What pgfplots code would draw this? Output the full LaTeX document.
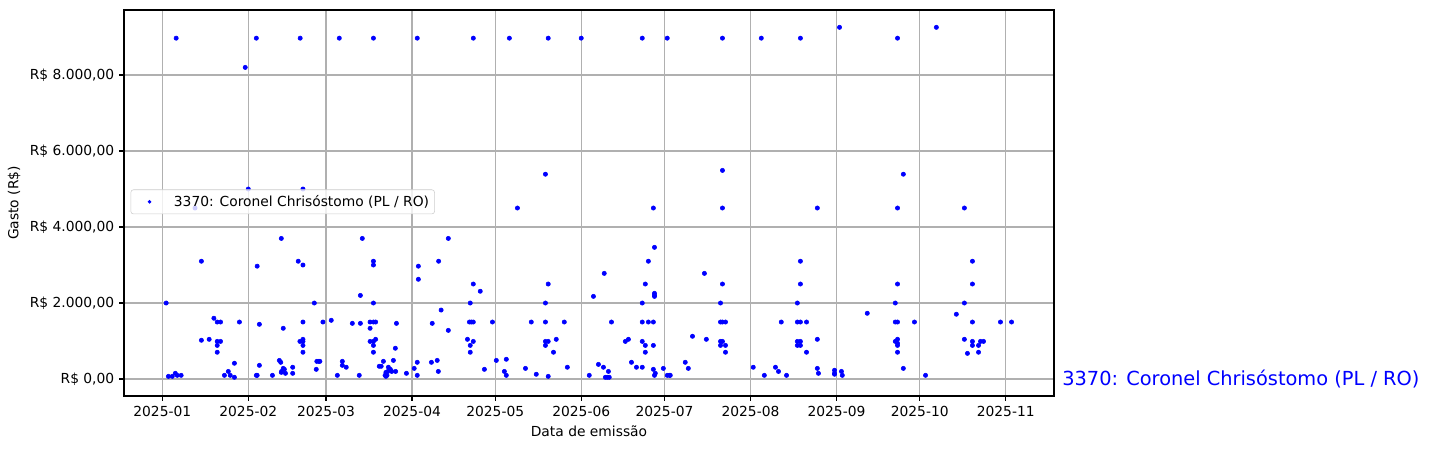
\documentclass[border=0pt]{standalone}
\usepackage{fontspec}
\setmainfont{DejaVu Sans}
\usepackage{pgfplots}
\usepackage{pgfplotstable}
\pgfplotsset{compat=1.18}
% x = days since 2025-01-01, y = value in R$
\pgfplotstableread{
x y
5.0 8970
29.9 8200
33.9 8970
49.7 8970
63.8 8970
76.1 8970
91.9 8970
112.1 8970
125.1 8970
139.1 8970
151.0 8970
173.0 8970
182.0 8970
201.9 8970
215.9 8970
230.0 8970
244.1 9255
265.0 8970
279.0 9255
31.0 5000
50.7 5000
11.8 4500
138.1 5390
128.0 4500
201.9 5490
177.0 4500
201.9 4500
236.1 4500
267.1 5390
265.0 4500
289.1 4500
42.9 3700
72.1 3700
103.1 3700
14.1 3100
34.2 2970
49.0 3100
50.7 3000
76.1 3100
76.1 3000
92.3 2970
92.3 2625
99.6 3100
177.4 3465
175.2 3100
230.0 3100
292.0 3100
71.4 2200
1.4 2000
54.8 2000
76.1 2000
112.1 2500
114.6 2310
139.1 2500
155.4 2175
111.0 2000
138.1 2000
159.3 2780
195.4 2780
174.1 2500
201.9 2500
177.4 2255
177.4 2205
177.4 2175
173.0 2000
201.2 2000
230.0 2500
265.0 2500
228.9 2000
264.2 2000
292.0 2500
289.1 2000
100.5 1815
18.6 1600
19.8 1500
21.0 1500
27.8 1500
35.0 1440
43.6 1335
14.1 1020
16.9 1045
19.8 990
21.0 990
50.7 1500
57.9 1500
60.9 1545
68.5 1465
71.4 1465
74.9 1500
76.1 1500
76.9 1500
74.9 1335
84.4 1465
97.3 1465
49.6 990
50.7 1045
50.7 990
103.1 1280
110.7 1500
111.4 1500
112.1 1500
119.0 1500
133.0 1500
138.1 1500
144.9 1500
110.0 1045
112.1 990
138.1 990
139.1 990
142.0 1045
161.9 1500
173.0 1500
175.2 1500
177.0 1500
201.2 1500
201.9 1500
203.0 1500
166.9 990
168.0 1045
173.0 990
191.1 1125
196.1 1045
201.2 990
201.9 990
254.1 1730
223.1 1500
228.9 1500
230.0 1500
232.2 1500
264.2 1500
265.0 1500
228.9 990
230.0 990
236.1 1045
264.2 990
265.0 1045
265.0 940
286.2 1705
271.1 1500
292.0 1500
302.1 1500
306.1 1500
289.1 1045
292.0 990
294.9 990
296.0 990
19.8 885
19.8 705
26.0 415
35.0 360
42.2 490
42.7 440
23.8 200
2.2 70
3.6 70
4.7 150
5.4 97
6.8 97
22.4 97
24.5 97
26.0 45
33.9 97
34.2 97
39.7 97
42.9 175
43.6 280
50.7 885
50.7 705
76.1 885
76.1 705
74.9 990
76.1 990
76.9 1045
84.0 810
55.7 465
56.4 465
56.8 465
55.5 255
47.0 310
47.0 150
44.0 255
44.4 150
43.0 200
64.9 465
64.9 360
66.3 310
63.1 97
71.0 97
79.7 465
83.3 490
78.2 335
78.9 335
81.5 310
82.2 255
80.6 175
81.3 200
82.7 200
84.1 200
80.3 97
81.0 97
80.6 70
88.0 150
90.8 280
91.9 440
91.9 97
97.0 440
99.1 490
99.5 200
111.0 885
111.0 705
138.1 885
141.0 705
116.1 255
120.4 490
124.0 520
123.3 200
124.0 97
130.9 280
134.8 125
139.1 70
146.0 310
153.9 97
174.1 885
174.1 705
177.0 885
201.2 885
203.0 885
203.0 705
157.2 385
159.0 310
160.8 200
159.7 45
160.4 45
161.1 45
169.1 440
170.9 310
173.0 310
177.0 255
177.4 97
177.7 150
180.6 280
182.0 97
182.8 97
183.1 97
188.5 440
189.6 280
228.9 885
230.0 885
232.2 705
265.0 885
265.0 705
213.0 310
217.0 97
221.0 310
222.1 200
225.0 97
236.1 280
236.5 150
242.3 230
242.3 150
242.3 125
244.8 200
245.1 97
267.1 280
292.0 885
294.2 885
290.2 675
294.2 705
275.1 97
}\datatable
\begin{document}
\begin{tikzpicture}
\begin{axis}[
  scale only axis, width=9.30in, height=3.86in,
  xmin=-13.8, xmax=321.4, ymin=-447, ymax=9711,
  xtick={0,31,59,90,120,151,181,212,243,273,304},
  xticklabels={2025-01,2025-02,2025-03,2025-04,2025-05,2025-06,2025-07,2025-08,2025-09,2025-10,2025-11},
  ytick={0,2000,4000,6000,8000},
  yticklabels={{R\$ 0,00},{R\$ 2.000,00},{R\$ 4.000,00},{R\$ 6.000,00},{R\$ 8.000,00}},
  xlabel={Data de emissão}, ylabel={Gasto (R\$)},
  grid=major, major grid style={color=black!31, line width=0.8pt},
  axis line style={line width=0.8pt},
  tick style={line width=0.8pt, color=black},
  tick align=outside, major tick length=3.5pt,
  xtick pos=left, ytick pos=left,
  axis on top, clip=false,
  font=\fontsize{10}{12}\selectfont,
  ticklabel style={font=\fontsize{10}{12}\selectfont},
  /pgf/number format/assume math mode=true,
  legend style={at={(0.007,0.503)}, anchor=west, draw=black!20, fill=white,
    fill opacity=0.8, text opacity=1, draw opacity=1, rounded corners=2pt,
    font=\fontsize{10}{12}\selectfont, inner xsep=2pt, inner ysep=2pt},
  legend image code/.code={%
    \path[draw=none, fill=none] (0,-2pt) rectangle (0.376in,2pt);
    \fill[blue, draw=none, fill opacity=1] (0.16in,0) circle (1.4pt);},
  legend cell align=left,
]
\addplot[only marks, mark=*, mark size=1.55pt, color=blue, mark options={draw=blue, fill=blue}] table[x=x, y=y] {\datatable};
\addlegendentry{3370: Coronel Chrisóstomo (PL / RO)}
\node[anchor=west, text=blue, font=\fontsize{14}{17}\selectfont, inner sep=0pt] at (axis cs:324.3,0) {3370: Coronel Chrisóstomo (PL / RO)};
\end{axis}
\pgfresetboundingbox
\path[use as bounding box] ([shift={(-1.24in,-0.52in)}]current axis.south west) rectangle ([shift={(3.75in,0.10in)}]current axis.north east);
\end{tikzpicture}
\end{document}
